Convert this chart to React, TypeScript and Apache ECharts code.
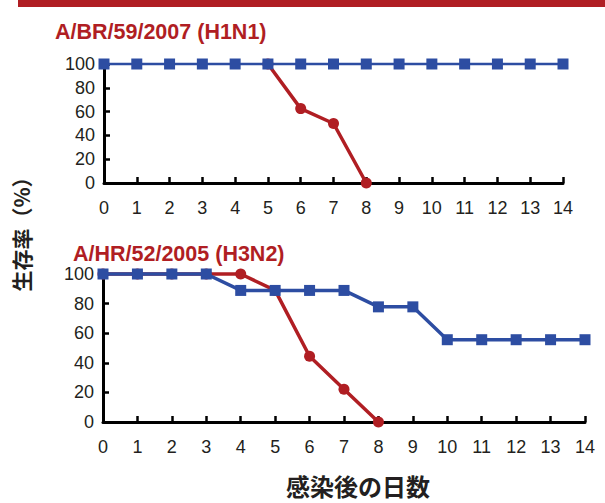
import React, { useEffect, useRef } from "react";
import * as echarts from "echarts";

const days = [0, 1, 2, 3, 4, 5, 6, 7, 8, 9, 10, 11, 12, 13, 14];
const h1n1Red = [null, null, null, null, null, 100, 62.5, 50, 0];
const h1n1Blue = [100, 100, 100, 100, 100, 100, 100, 100, 100, 100, 100, 100, 100, 100, 100];
const h3n2Red = [100, 100, 100, 100, 100, 88.9, 44.4, 22.2, 0];
const h3n2Blue = [100, 100, 100, 100, 88.9, 88.9, 88.9, 88.9, 77.8, 77.8, 55.6, 55.6, 55.6, 55.6, 55.6];
const titles = ["A/BR/59/2007 (H1N1)", "A/HR/52/2005 (H3N2)"];
const yName = "生存率（%）";
const xName = "感染後の日数";

const RED = "#B01E23";
const BLUE = "#2D4DA2";
const TXT = "#231F20";
const NUM_FONT = "'Liberation Sans', Arial, sans-serif";
const CJK_FONT = "'Noto Sans CJK JP', sans-serif";

const pair = (vals: (number | null)[]) =>
  vals.map((v, i) => (v === null ? [days[i], "-"] : [days[i], v]));

export default function App() {
  const ref = useRef<HTMLDivElement>(null);
  useEffect(() => {
    const chart = echarts.init(ref.current!, null, { renderer: "svg" });
    const xAxis = (gi: number) => ({
      type: "value",
      gridIndex: gi,
      min: 0,
      max: 14,
      interval: 1,
      axisLine: { show: true, lineStyle: { color: "#000", width: 3 } },
      axisTick: { show: true, inside: true, length: 6, lineStyle: { color: "#000", width: 2.5 } },
      axisLabel: { color: TXT, fontSize: 18, fontFamily: NUM_FONT, margin: 16 },
      splitLine: { show: false },
    });
    const yAxis = (gi: number) => ({
      type: "value",
      gridIndex: gi,
      min: 0,
      max: 100,
      interval: 20,
      axisLine: { show: true, lineStyle: { color: "#000", width: 3 } },
      axisTick: { show: true, inside: true, length: 6, lineStyle: { color: "#000", width: 2.5 } },
      axisLabel: { color: TXT, fontSize: 18, fontFamily: NUM_FONT, margin: 9 },
      splitLine: { show: false },
    });
    const redSeries = (gi: number, data: (number | null)[]) => ({
      type: "line",
      xAxisIndex: gi,
      yAxisIndex: gi,
      data: pair(data),
      symbol: "circle",
      symbolSize: 11,
      clip: false,
      connectNulls: false,
      z: 2,
      lineStyle: { color: RED, width: 3.5 },
      itemStyle: { color: RED },
    });
    const blueSeries = (gi: number, data: number[], w: number) => ({
      type: "line",
      xAxisIndex: gi,
      yAxisIndex: gi,
      data: pair(data),
      symbol: "rect",
      symbolSize: 11,
      clip: false,
      z: 3,
      lineStyle: { color: BLUE, width: w },
      itemStyle: { color: BLUE },
    });
    chart.setOption({
      animation: false,
      backgroundColor: "#fff",
      title: [
        {
          text: titles[0],
          left: 50,
          top: 16,
          textStyle: { color: RED, fontSize: 21.5, fontWeight: "bold", fontFamily: NUM_FONT },
        },
        {
          text: titles[1],
          left: 68,
          top: 238,
          textStyle: { color: RED, fontSize: 21.5, fontWeight: "bold", fontFamily: NUM_FONT },
        },
      ],
      grid: [
        { left: 104, right: 42, top: 64, height: 119 },
        { left: 103, right: 20, top: 274, height: 148 },
      ],
      xAxis: [xAxis(0), xAxis(1)],
      yAxis: [yAxis(0), yAxis(1)],
      series: [
        redSeries(0, h1n1Red),
        blueSeries(0, h1n1Blue, 2.5),
        redSeries(1, h3n2Red),
        blueSeries(1, h3n2Blue, 3.5),
      ],
      graphic: [
        { type: "rect", shape: { x: 18, y: 0, width: 600, height: 7 }, style: { fill: RED } },
        {
          type: "text",
          x: 21,
          y: 229,
          rotation: Math.PI / 2,
          style: {
            text: yName,
            fill: TXT,
            font: `bold 21px ${CJK_FONT}`,
            lineHeight: 22,
            textAlign: "center",
            textVerticalAlign: "middle",
          },
        },
        {
          type: "text",
          x: 358,
          y: 485,
          style: {
            text: xName,
            fill: TXT,
            font: `bold 24px ${CJK_FONT}`,
            lineHeight: 24,
            textAlign: "center",
            textVerticalAlign: "middle",
          },
        },
      ],
    });
    return () => chart.dispose();
  }, []);
  return <div ref={ref} style={{ width: 605, height: 503, position: "absolute", left: 0, top: 0 }} />;
}
